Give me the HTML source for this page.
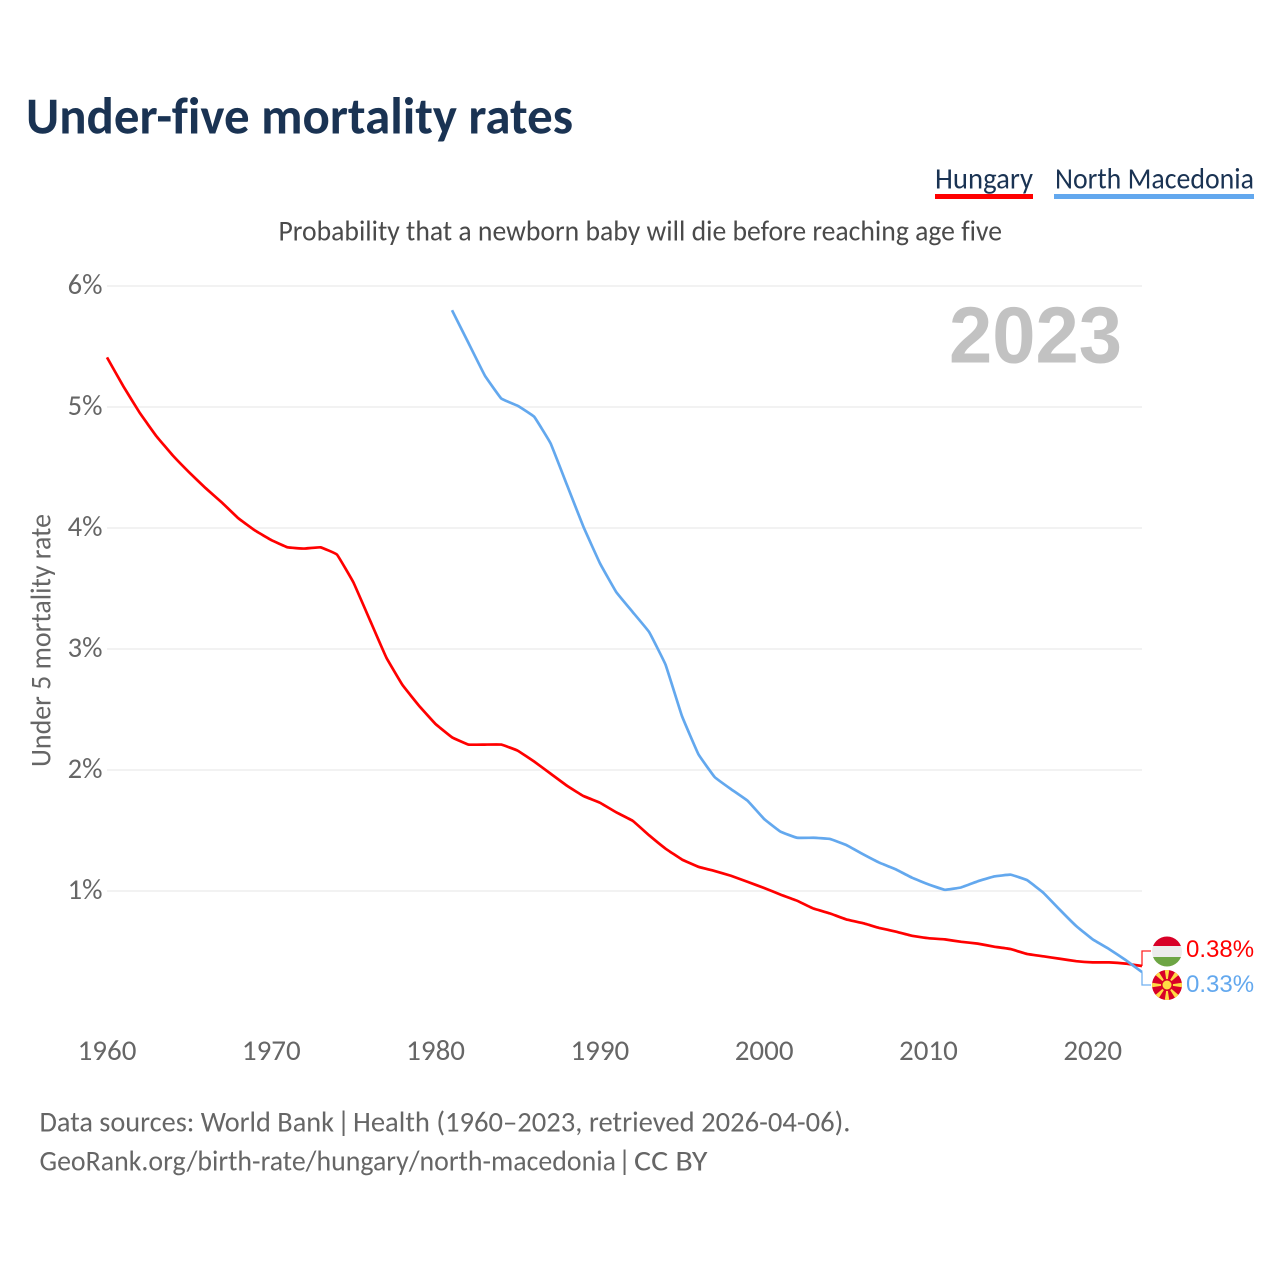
<!DOCTYPE html>
<html lang="en">
<head>
<meta charset="utf-8">
<title>Under-five mortality rates</title>
<style>
html,body{margin:0;padding:0;background:#fff;width:1280px;height:1280px;overflow:hidden}
svg{display:block}
text{font-family:"Carlito","Lato","Liberation Sans",sans-serif;font-variant-ligatures:none}
</style>
</head>
<body>
<svg id="chart" xmlns="http://www.w3.org/2000/svg" width="1280" height="1280" viewBox="0 0 1280 1280">
  <text x="26" y="133.5" font-size="52" font-weight="700" fill="#1a3353" textLength="547" lengthAdjust="spacingAndGlyphs">Under-five mortality rates</text>

  <g>
    <g>
      <text x="935" y="188.5" font-size="29.5" fill="#1a3353" textLength="98" lengthAdjust="spacingAndGlyphs">Hungary</text>
      <rect x="935" y="194" width="98" height="5" fill="#ff0000"/>
    </g>
    <g>
      <text x="1055" y="188.5" font-size="29.5" fill="#1a3353" textLength="199" lengthAdjust="spacingAndGlyphs">North Macedonia</text>
      <rect x="1054" y="194" width="200" height="5" fill="#63a8ee"/>
    </g>
  </g>

  <text x="278.5" y="240.5" font-size="29" fill="#4a4a4a" textLength="723.5" lengthAdjust="spacingAndGlyphs">Probability that a newborn baby will die before reaching age five</text>

  <g id="grid"></g>
  <g id="ylabels"></g>
  <g id="xlabels"></g>

  <text transform="translate(50.5 767) rotate(-90)" x="0" y="0" font-size="28.5" fill="#666666" textLength="253" lengthAdjust="spacingAndGlyphs">Under 5 mortality rate</text>

  <text x="949" y="362.5" font-size="80" font-weight="700" fill="#c2c2c2" textLength="173" lengthAdjust="spacingAndGlyphs" style='font-family:"Liberation Sans",sans-serif'>2023</text>

  <g id="series"></g>
  <g id="connectors"></g>

  <g>
    <clipPath id="clip-hu"><circle cx="1167" cy="951.5" r="15"/></clipPath>
    <g clip-path="url(#clip-hu)">
      <rect x="1150" y="935" width="34" height="11" fill="#d80027"/>
      <rect x="1150" y="946" width="34" height="11" fill="#ececec"/>
      <rect x="1150" y="957" width="34" height="12" fill="#6da544"/>
    </g>
  </g>
  <g>
    <clipPath id="clip-mk"><circle cx="1167" cy="985" r="15"/></clipPath>
    <g clip-path="url(#clip-mk)">
      <rect x="1150" y="968" width="34" height="34" fill="#d80027"/>
      <g fill="#ffda44">
        <polygon points="1164.5,968 1169.5,968 1167,985"/>
        <polygon points="1164.5,1002 1169.5,1002 1167,985"/>
        <polygon points="1150,982.5 1150,987.5 1167,985"/>
        <polygon points="1184,982.5 1184,987.5 1167,985"/>
        <polygon points="1152,972 1157,969 1167,985"/>
        <polygon points="1177,969 1182,972 1167,985"/>
        <polygon points="1152,998 1157,1001 1167,985"/>
        <polygon points="1177,1001 1182,998 1167,985"/>
      </g>
      <circle cx="1167" cy="985" r="6" fill="#d80027"/>
      <circle cx="1167" cy="985" r="4.5" fill="#ffda44"/>
    </g>
  </g>

  <text id="end-hu" x="1186" y="957" font-size="24" fill="#ff0000" style='font-family:"Liberation Sans",sans-serif'></text>
  <text id="end-mk" x="1186" y="992" font-size="24" fill="#63a8ee" style='font-family:"Liberation Sans",sans-serif'></text>

  <g font-size="29" fill="#666666">
    <text x="39.5" y="1131.5" textLength="294.5" lengthAdjust="spacingAndGlyphs">Data sources: World Bank</text>
    <text x="343.5" y="1131.5" text-anchor="middle">|</text>
    <text x="353" y="1131.5" textLength="497.5" lengthAdjust="spacingAndGlyphs">Health (1960–2023, retrieved 2026-04-06).</text>
  </g>
  <g font-size="29" fill="#666666">
    <text x="39.5" y="1170.5" textLength="576.5" lengthAdjust="spacingAndGlyphs">GeoRank.org/birth-rate/hungary/north-macedonia</text>
    <text x="624.5" y="1170.5" text-anchor="middle">|</text>
    <text x="634" y="1170.5" textLength="73.5" lengthAdjust="spacingAndGlyphs">CC BY</text>
  </g>
</svg>

<script>
const hungaryStartYear = 1960;
const macedoniaStartYear = 1981;
const hungaryValues = [5.41,5.17,4.95,4.76,4.60,4.46,4.33,4.21,4.08,3.98,3.90,3.84,3.83,3.84,3.78,3.55,3.24,2.93,2.70,2.53,2.38,2.27,2.21,2.21,2.21,2.16,2.07,1.97,1.87,1.785,1.73,1.65,1.58,1.46,1.35,1.26,1.20,1.165,1.125,1.075,1.025,0.97,0.92,0.855,0.815,0.765,0.735,0.695,0.665,0.63,0.61,0.60,0.58,0.565,0.54,0.52,0.48,0.46,0.44,0.42,0.41,0.41,0.40,0.38];
const macedoniaValues = [5.80,5.53,5.26,5.07,5.01,4.92,4.70,4.355,4.01,3.71,3.47,3.305,3.14,2.87,2.445,2.13,1.94,1.84,1.745,1.595,1.49,1.44,1.44,1.43,1.38,1.305,1.235,1.18,1.11,1.055,1.01,1.03,1.08,1.12,1.135,1.09,0.985,0.845,0.71,0.60,0.52,0.43,0.33];
const yTicks = [1,2,3,4,5,6];
const xTicks = [1960,1970,1980,1990,2000,2010,2020];

const NS = 'http://www.w3.org/2000/svg';
function xScale(year){ return 107 + (year - 1960) * (1142 - 107) / 63; }
function yScale(v){ return 1012 - v * 121; }
function linePath(values, startYear){
  const pts = values.map((v,i)=>[xScale(startYear+i), yScale(v)]);
  const k = 0.04;
  let d = 'M' + pts[0][0].toFixed(2) + ' ' + pts[0][1].toFixed(2);
  for (let i = 0; i < pts.length - 1; i++) {
    const p0 = pts[Math.max(i-1,0)], p1 = pts[i], p2 = pts[i+1], p3 = pts[Math.min(i+2,pts.length-1)];
    const c1x = p1[0] + (p2[0]-p0[0])*k, c1y = p1[1] + (p2[1]-p0[1])*k;
    const c2x = p2[0] - (p3[0]-p1[0])*k, c2y = p2[1] - (p3[1]-p1[1])*k;
    d += ' C' + c1x.toFixed(2) + ' ' + c1y.toFixed(2) + ' ' + c2x.toFixed(2) + ' ' + c2y.toFixed(2) + ' ' + p2[0].toFixed(2) + ' ' + p2[1].toFixed(2);
  }
  return d;
}

const grid = document.getElementById('grid');
const ylabels = document.getElementById('ylabels');
yTicks.forEach(t=>{
  const l = document.createElementNS(NS,'line');
  
  
  l.setAttribute('x1', 107);
  l.setAttribute('x2', 1142);
  l.setAttribute('y1', yScale(t));
  l.setAttribute('y2', yScale(t));
  l.setAttribute('stroke', '#eeeeee');
  l.setAttribute('stroke-width', '1.5');
  grid.appendChild(l);
  const s = document.createElementNS(NS,'text');
  
  
  s.setAttribute('x', 102.5);
  s.setAttribute('y', yScale(t) + 8);
  s.setAttribute('text-anchor', 'end');
  s.setAttribute('font-size', '28.5');
  s.setAttribute('fill', '#666666');
  s.textContent = t + '%';
  ylabels.appendChild(s);
});

const xlabels = document.getElementById('xlabels');
xTicks.forEach(t=>{
  const s = document.createElementNS(NS,'text');
  
  
  s.setAttribute('x', xScale(t));
  s.setAttribute('y', 1060);
  s.setAttribute('text-anchor', 'middle');
  s.setAttribute('font-size', '29');
  s.setAttribute('fill', '#666666');
  s.textContent = t;
  xlabels.appendChild(s);
});

const series = document.getElementById('series');
const hungaryLine = document.createElementNS(NS,'path');


hungaryLine.setAttribute('d', linePath(hungaryValues, hungaryStartYear));
hungaryLine.setAttribute('fill', 'none');
hungaryLine.setAttribute('stroke', '#ff0000');
hungaryLine.setAttribute('stroke-width', '2.7');
series.appendChild(hungaryLine);
const macedoniaLine = document.createElementNS(NS,'path');


macedoniaLine.setAttribute('d', linePath(macedoniaValues, macedoniaStartYear));
macedoniaLine.setAttribute('fill', 'none');
macedoniaLine.setAttribute('stroke', '#63a8ee');
macedoniaLine.setAttribute('stroke-width', '2.7');
series.appendChild(macedoniaLine);

const connectors = document.getElementById('connectors');
const hungaryLast = hungaryValues[hungaryValues.length-1];
const macedoniaLast = macedoniaValues[macedoniaValues.length-1];
const c1 = document.createElementNS(NS,'path');


c1.setAttribute('d', 'M' + xScale(2023) + ' ' + yScale(hungaryLast) + ' V951 H1151');
c1.setAttribute('fill', 'none');
c1.setAttribute('stroke', '#ff0000');
c1.setAttribute('stroke-opacity', '0.85');
c1.setAttribute('stroke-width', '1.3');
connectors.appendChild(c1);
const c2 = document.createElementNS(NS,'path');


c2.setAttribute('d', 'M' + xScale(2023) + ' ' + yScale(macedoniaLast) + ' V985 H1151');
c2.setAttribute('fill', 'none');
c2.setAttribute('stroke', '#63a8ee');
c2.setAttribute('stroke-opacity', '0.9');
c2.setAttribute('stroke-width', '1.3');
connectors.appendChild(c2);

document.getElementById('end-hu').textContent = hungaryLast.toFixed(2) + '%';
document.getElementById('end-mk').textContent = macedoniaLast.toFixed(2) + '%';
</script>
</body>
</html>
